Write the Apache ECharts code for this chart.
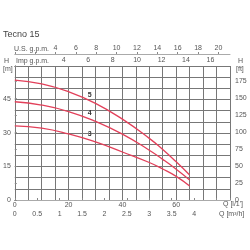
<!DOCTYPE html>
<html>
<head>
<meta charset="utf-8">
<script src="https://cdn.jsdelivr.net/npm/echarts@6/dist/echarts.min.js"></script>
<style>
  html, body { margin: 0; padding: 0; background: #fff; }
  #chart { width: 250px; height: 250px; }
</style>
</head>
<body>
<div id="chart"></div>
<script>
  // flow Q in l/min, head H in m
  var flowQ = [0, 10, 20, 30, 40, 50, 55, 60, 65];
  var head5 = [53.7, 52.0, 48.5, 43.3, 36.2, 27.6, 22.6, 17.1, 11.2];
  var head4 = [44.0, 42.5, 39.6, 35.2, 29.5, 22.3, 18.2, 13.8, 9.0];
  var head3 = [33.2, 32.2, 29.6, 26.0, 21.5, 16.8, 13.9, 10.6, 6.3];
  var curveNames = ['5', '4', '3'];
  var labelPos = [[27.8, 47.2], [27.8, 39.0], [27.8, 29.6]];

  var txt = '#555';
  var fnt = 'Liberation Sans';
  var red = '#e2405a';
  var gridCol = '#777';

  function pairs(h) {
    return flowQ.map(function (q, i) { return [q, h[i]]; });
  }

  var chartDom = document.getElementById('chart');
  var myChart = echarts.init(chartDom);
  var heads = [head5, head4, head3];

  var series = heads.map(function (h, i) {
    return {
      name: curveNames[i],
      type: 'line',
      smooth: true,
      showSymbol: false,
      data: pairs(h),
      lineStyle: { color: red, width: 1.3 },
      markPoint: {
        symbol: 'circle',
        symbolSize: 1,
        itemStyle: { color: 'rgba(0,0,0,0)' },
        label: { show: true, position: 'inside', color: '#333', fontWeight: 'bold', fontSize: 7, fontFamily: fnt, formatter: curveNames[i] },
        data: [{ coord: labelPos[i] }]
      }
    };
  });

  var option = {
    animation: false,
    grid: { left: 14, right: 20, top: 66, bottom: 50 },
    xAxis: [
      {
        type: 'value', min: 0, max: 80, interval: 5, position: 'bottom',
        axisLine: { show: true, lineStyle: { color: gridCol } },
        axisTick: { show: false },
        splitLine: { show: true, lineStyle: { color: gridCol, width: 1 } },
        axisLabel: {
          color: txt, fontSize: 7, fontFamily: fnt, margin: 2,
          formatter: function (v) { return (v % 20 === 0 && v < 80) ? v : ''; }
        }
      },
      {
        type: 'value', min: 0, max: 4.8, interval: 0.5, position: 'bottom', offset: 9,
        axisLine: { show: true, lineStyle: { color: '#aaa' } },
        axisTick: { show: true, length: 2, inside: true, lineStyle: { color: '#888' } },
        splitLine: { show: false },
        axisLabel: {
          color: txt, fontSize: 7, fontFamily: fnt, margin: 2,
          formatter: function (v) { return v <= 4 ? v : ''; }
        }
      },
      {
        type: 'value', min: 0, max: 80 / 4.54609, interval: 2, position: 'top',
        axisLine: { show: true, lineStyle: { color: gridCol } },
        axisTick: { show: false },
        splitLine: { show: false },
        axisLabel: {
          color: txt, fontSize: 7, fontFamily: fnt, margin: 2,
          formatter: function (v) { return v >= 4 ? v : ''; }
        }
      },
      {
        type: 'value', min: 0, max: 80 / 3.78541, interval: 2, position: 'top', offset: 12,
        axisLine: { show: true, lineStyle: { color: '#aaa' } },
        axisTick: { show: true, length: 2, lineStyle: { color: '#888' } },
        splitLine: { show: false },
        axisLabel: {
          color: txt, fontSize: 7, fontFamily: fnt, margin: 2,
          formatter: function (v) { return v >= 4 ? v : ''; }
        }
      }
    ],
    yAxis: [
      {
        type: 'value', min: 0, max: 60, interval: 5, position: 'left',
        axisLine: { show: true, lineStyle: { color: gridCol } },
        axisTick: { show: false },
        splitLine: { show: true, lineStyle: { color: gridCol, width: 1 } },
        axisLabel: {
          color: txt, fontSize: 7, fontFamily: fnt, margin: 4,
          formatter: function (v) { return (v % 15 === 0 && v < 60) ? v : ''; }
        }
      },
      {
        type: 'value', min: 0, max: 60 / 0.3048, interval: 25, position: 'right',
        axisLine: { show: true, lineStyle: { color: gridCol } },
        axisTick: { show: true, length: 2, lineStyle: { color: '#888' } },
        splitLine: { show: false },
        axisLabel: {
          color: txt, fontSize: 7, fontFamily: fnt, margin: 5,
          formatter: function (v) { return v <= 175 ? v : ''; }
        }
      }
    ],
    graphic: [
      { type: 'text', left: 3, top: 30, style: { text: 'Tecno 15', fill: '#444', font: '9px ' + fnt } },
      { type: 'text', left: 14, top: 46, style: { text: 'U.S. g.p.m.', fill: txt, font: '7px ' + fnt } },
      { type: 'text', left: 16, top: 58, style: { text: 'Imp g.p.m.', fill: txt, font: '7px ' + fnt } },
      { type: 'text', left: 4, top: 58, style: { text: 'H', fill: txt, font: '7px ' + fnt } },
      { type: 'text', left: 3, top: 66, style: { text: '[m]', fill: txt, font: '7px ' + fnt } },
      { type: 'text', left: 238, top: 58, style: { text: 'H', fill: txt, font: '7px ' + fnt } },
      { type: 'text', left: 236, top: 66, style: { text: '[ft]', fill: txt, font: '7px ' + fnt } },
      { type: 'text', left: 223, top: 201, style: { text: "Q [l/1']", fill: txt, font: '7px ' + fnt } },
      { type: 'text', left: 219, top: 211, style: { text: 'Q [m³/h]', fill: txt, font: '7px ' + fnt } }
    ],
    series: series
  };

  option && myChart.setOption(option);
</script>
</body>
</html>
